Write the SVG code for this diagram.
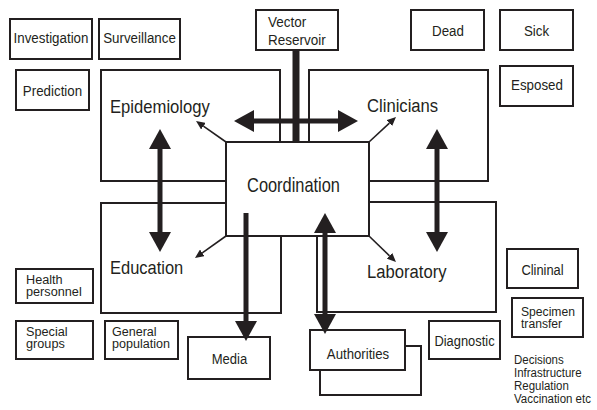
<svg xmlns="http://www.w3.org/2000/svg" width="597" height="410" viewBox="0 0 597 410">
<style>
.b{fill:#fff;stroke:#231f20;stroke-width:2}
.t{font-family:"Liberation Sans",Arial,sans-serif;fill:#231f20}
.s{font-size:15px}
.x{font-size:13.5px}
.m{font-size:18.5px}
.thick{stroke:#231f20;stroke-width:5;fill:none}
.thin{stroke:#231f20;stroke-width:1.6;fill:none}
</style>
<defs>
<marker id="big" viewBox="0 0 20 22" refX="0" refY="11" markerWidth="20" markerHeight="22" markerUnits="userSpaceOnUse" orient="auto-start-reverse">
<path d="M0,0 L20,11 L0,22 Z" fill="#231f20"/>
</marker>
<marker id="sm" viewBox="0 0 9 8" refX="0" refY="4" markerWidth="9" markerHeight="8" markerUnits="userSpaceOnUse" orient="auto">
<path d="M0,0 L9,4 L0,8 Z" fill="#231f20"/>
</marker>
</defs>
<rect width="597" height="410" fill="#fff"/>

<g id="investigation"><rect class="b" x="10" y="19" width="82" height="40"/><text class="t s" transform="translate(51,43) scale(0.89,1)" text-anchor="middle">Investigation</text></g>
<g id="surveillance"><rect class="b" x="99" y="19" width="81" height="40"/><text class="t s" transform="translate(139.5,43) scale(0.89,1)" text-anchor="middle">Surveillance</text></g>
<g id="prediction"><rect class="b" x="16" y="70" width="73" height="40"/><text class="t s" transform="translate(52.5,96) scale(0.89,1)" text-anchor="middle">Prediction</text></g>
<g id="vector"><rect class="b" x="256" y="10" width="82" height="40"/><text class="t s" transform="translate(268,0) scale(0.9,1)"><tspan x="0" y="27">Vector</tspan><tspan x="0" y="45">Reservoir</tspan></text></g>
<g id="dead"><rect class="b" x="411" y="10" width="73" height="40"/><text class="t s" transform="translate(448,36) scale(0.89,1)" text-anchor="middle">Dead</text></g>
<g id="sick"><rect class="b" x="500" y="10" width="73" height="40"/><text class="t s" transform="translate(536.5,36) scale(0.89,1)" text-anchor="middle">Sick</text></g>
<g id="esposed"><rect class="b" x="500" y="66" width="73" height="40"/><text class="t s" transform="translate(537,90) scale(0.89,1)" text-anchor="middle">Esposed</text></g>

<g id="epidemiology"><rect class="b" x="101" y="70" width="179" height="111"/><text class="t m" transform="translate(110,113) scale(0.9,1)">Epidemiology</text></g>
<g id="clinicians"><rect class="b" x="309" y="70" width="179" height="111"/><text class="t m" transform="translate(367,112) scale(0.9,1)">Clinicians</text></g>
<g id="education"><rect class="b" x="101" y="203" width="180" height="110"/><text class="t m" transform="translate(110,274) scale(0.89,1)">Education</text></g>
<g id="laboratory"><rect class="b" x="317" y="202" width="179" height="110"/><text class="t m" transform="translate(367,278) scale(0.9,1)">Laboratory</text></g>
<g id="coordination"><rect class="b" x="226" y="142" width="143" height="94"/><text class="t" font-size="20.5" transform="translate(293.5,192) scale(0.8,1)" text-anchor="middle">Coordination</text></g>

<g id="health"><rect class="b" x="16" y="269" width="77" height="34"/><text class="t x" transform="translate(26,0) scale(0.94,1)"><tspan x="0" y="284">Health</tspan><tspan x="0" y="296">personnel</tspan></text></g>
<g id="special"><rect class="b" x="16" y="321" width="77" height="38"/><text class="t x" transform="translate(26,0) scale(0.94,1)"><tspan x="0" y="336">Special</tspan><tspan x="0" y="348">groups</tspan></text></g>
<g id="general"><rect class="b" x="105" y="321" width="73" height="38"/><text class="t x" transform="translate(112,0) scale(0.93,1)"><tspan x="0" y="336">General</tspan><tspan x="0" y="348">population</tspan></text></g>
<g id="media"><rect class="b" x="188" y="337" width="82" height="42"/><text class="t s" transform="translate(229.5,364) scale(0.87,1)" text-anchor="middle">Media</text></g>
<g id="authorities"><rect class="b" x="320" y="346" width="101" height="49"/><rect class="b" x="310" y="330" width="95" height="40"/><text class="t s" transform="translate(358,359) scale(0.88,1)" text-anchor="middle">Authorities</text></g>
<g id="diagnostic"><rect class="b" x="429" y="321" width="71" height="38"/><text class="t s" transform="translate(464.5,346) scale(0.86,1)" text-anchor="middle">Diagnostic</text></g>
<g id="clininal"><rect class="b" x="507" y="249" width="71" height="39"/><text class="t s" transform="translate(542.5,275) scale(0.86,1)" text-anchor="middle">Clininal</text></g>
<g id="specimen"><rect class="b" x="512" y="298" width="71" height="39"/><text class="t x" transform="translate(521,0) scale(0.9,1)"><tspan x="0" y="316">Specimen</tspan><tspan x="0" y="328">transfer</tspan></text></g>
<g id="decisions"><text class="t x" transform="translate(514,0) scale(0.85,1)"><tspan x="0" y="364">Decisions</tspan><tspan x="0" y="377">Infrastructure</tspan><tspan x="0" y="390">Regulation</tspan><tspan x="0" y="403">Vaccination etc</tspan></text></g>

<g id="connectors">
<line x1="296" y1="50" x2="296" y2="142" stroke="#231f20" stroke-width="7"/>
<line class="thick" x1="254" y1="121" x2="338" y2="121" marker-start="url(#big)" marker-end="url(#big)"/>
<line class="thick" x1="160" y1="149" x2="160" y2="232" marker-start="url(#big)" marker-end="url(#big)"/>
<line class="thick" x1="437" y1="149" x2="437" y2="232" marker-start="url(#big)" marker-end="url(#big)"/>
<line class="thick" stroke-width="4" x1="246" y1="213" x2="246" y2="321" marker-end="url(#big)"/>
<line class="thick" stroke-width="4" x1="325" y1="233" x2="325" y2="314" marker-start="url(#big)" marker-end="url(#big)"/>
<line class="thin" x1="226" y1="142" x2="203.4" y2="126.2" marker-end="url(#sm)"/>
<line class="thin" x1="369" y1="142" x2="389.4" y2="123.1" marker-end="url(#sm)"/>
<line class="thin" x1="226" y1="236" x2="202.3" y2="252.8" marker-end="url(#sm)"/>
<line class="thin" x1="369" y1="236" x2="389.5" y2="255.8" marker-end="url(#sm)"/>
</g>
</svg>
